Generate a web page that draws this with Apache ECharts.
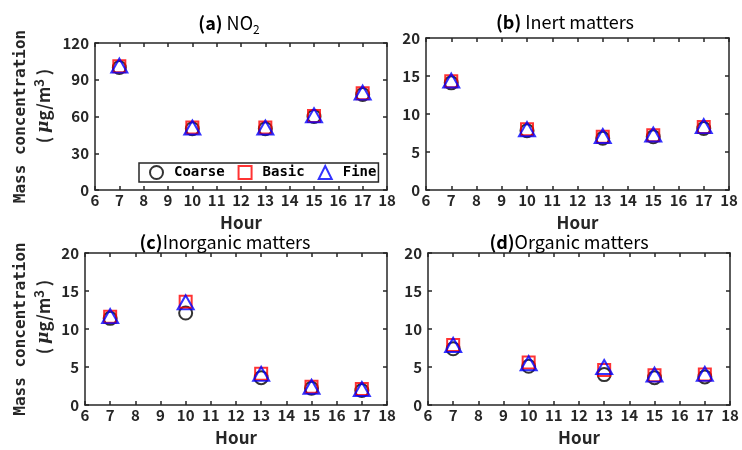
<!DOCTYPE html>
<html>
<head>
<meta charset="utf-8">
<script src="https://cdn.jsdelivr.net/npm/echarts@6/dist/echarts.min.js"></script>
<style>html,body{margin:0;padding:0;background:#fff;}#c{width:742px;height:450px;}</style>
</head>
<body>
<div id="c"></div>
<script>
// ---- data ----
const hours = [7, 10, 13, 15, 17];
const xTicks = [6, 7, 8, 9, 10, 11, 12, 13, 14, 15, 16, 17, 18];
const seriesNames = ['Coarse', 'Basic', 'Fine'];
const no2Coarse = [100, 50, 50, 60, 78];
const no2Basic = [101, 51, 51, 60.5, 79];
const no2Fine = [101.5, 51, 51, 61, 79.5];
const inertCoarse = [14.1, 7.8, 6.8, 7.0, 8.1];
const inertBasic = [14.3, 8.0, 7.0, 7.2, 8.3];
const inertFine = [14.4, 8.0, 7.1, 7.3, 8.4];
const inorgCoarse = [11.4, 12.1, 3.6, 2.2, 1.9];
const inorgBasic = [11.6, 13.6, 4.1, 2.4, 2.1];
const inorgFine = [11.7, 13.5, 4.1, 2.4, 2.1];
const orgCoarse = [7.4, 5.1, 4.0, 3.6, 3.7];
const orgBasic = [7.9, 5.6, 4.6, 3.9, 4.0];
const orgFine = [7.9, 5.5, 5.0, 4.0, 4.1];

const AX = '#262626';
const TF = 'Noto Sans CJK JP';
const MF = 'DejaVu Sans Mono';
const panels = [
  {title: '{b|(a)} NO{sub|2}', ymax: 120, yint: 30, vals: [no2Coarse, no2Basic, no2Fine],
   grid: {left: 95, top: 43, width: 292, height: 147}, tx: 224, ty: 6},
  {title: '{b|(b)} Inert matters', ymax: 20, yint: 5, vals: [inertCoarse, inertBasic, inertFine],
   grid: {left: 426, top: 38, width: 303, height: 152}, tx: 560, ty: 8},
  {title: '{b|(c)}Inorganic matters', ymax: 20, yint: 5, vals: [inorgCoarse, inorgBasic, inorgFine],
   grid: {left: 85, top: 253, width: 302, height: 152}, tx: 220, ty: 228},
  {title: '{b|(d)}Organic matters', ymax: 20, yint: 5, vals: [orgCoarse, orgBasic, orgFine],
   grid: {left: 428, top: 253, width: 302, height: 152}, tx: 564, ty: 228}
];
const styles = [
  {symbol: 'circle', size: 13, color: '#000000'},
  {symbol: 'rect', size: 12, color: '#ff0000'},
  {symbol: 'triangle', size: [16, 14], color: '#0000ff'}
];

const grids = [], xAxes = [], yAxes = [], series = [], titles = [];
panels.forEach((p, i) => {
  grids.push(Object.assign({containLabel: false}, p.grid));
  const xBase = {gridIndex: i, type: 'value', min: xTicks[0], max: xTicks[xTicks.length - 1], interval: 1,
    splitLine: {show: false}, axisLine: {show: true, onZero: false, lineStyle: {color: AX, width: 1.5}},
    axisTick: {show: true, inside: true, length: 4, lineStyle: {color: AX, width: 1.5}}};
  xAxes.push(Object.assign({}, xBase, {position: 'bottom', name: 'Hour', nameLocation: 'middle', nameGap: 24,
    nameTextStyle: {fontFamily: TF, fontWeight: 'bold', fontSize: 17, color: AX},
    axisLabel: {show: true, margin: 3, fontFamily: TF, fontWeight: 'bold', fontSize: 15, color: AX}}));
  xAxes.push(Object.assign({}, xBase, {position: 'top', axisLabel: {show: false}}));
  const yBase = {gridIndex: i, type: 'value', min: 0, max: p.ymax, interval: p.yint,
    splitLine: {show: false}, axisLine: {show: true, onZero: false, lineStyle: {color: AX, width: 1.5}},
    axisTick: {show: true, inside: true, length: 4, lineStyle: {color: AX, width: 1.5}}};
  yAxes.push(Object.assign({}, yBase, {position: 'left',
    axisLabel: {show: true, margin: 6, fontFamily: TF, fontWeight: 'bold', fontSize: 15, color: AX}}));
  yAxes.push(Object.assign({}, yBase, {position: 'right', axisLabel: {show: false}}));
  p.vals.forEach((arr, k) => {
    const s = styles[k];
    series.push({
      type: 'scatter', name: seriesNames[k], xAxisIndex: 2 * i, yAxisIndex: 2 * i,
      symbol: s.symbol, symbolSize: s.size,
      itemStyle: {color: 'rgba(255,255,255,0)', borderColor: s.color, borderWidth: 2},
      emphasis: {disabled: true},
      data: hours.map((h, j) => [h, arr[j]]), z: 2 + k
    });
  });
  titles.push({
    text: p.title, left: p.tx, top: p.ty, textAlign: 'center',
    textStyle: {fontFamily: 'Noto Sans CJK JP', fontSize: 18, fontWeight: 'normal', color: '#000',
      rich: {
        b: {fontFamily: 'Noto Sans CJK JP', fontSize: 18, fontWeight: 'bold', color: '#000'},
        sub: {fontFamily: 'Noto Sans CJK JP', fontSize: 12, color: '#000', verticalAlign: 'bottom', padding: [12, 0, 0, 0]}
      }}
  });
});

const yLabelRich = {
  mu: {fontFamily: 'DejaVu Serif', fontStyle: 'italic', fontSize: 17, fill: AX, fontWeight: 'bold'},
  sup: {fontFamily: TF, fontSize: 13, fontWeight: 'bold', fill: AX, verticalAlign: 'top', padding: [0, 0, 10, 0]},
  n: {fontFamily: TF, fontSize: 17, fontWeight: 'bold', fill: AX}
};
function yLabels(cy, cy2) {
  return [
    {type: 'text', x: 21, y: cy, rotation: Math.PI / 2,
     style: {text: 'Mass concentration', font: 'bold 16px "DejaVu Sans Mono"', fill: AX, textAlign: 'center', textVerticalAlign: 'middle'}},
    {type: 'text', x: 44, y: cy2, rotation: Math.PI / 2,
     style: {text: '{n|( }{mu|μ}{n|g/m}{sup|3}{n| )}', rich: yLabelRich, fill: AX, textAlign: 'center', textVerticalAlign: 'middle'}}
  ];
}

const chart = echarts.init(document.getElementById('c'), null, {renderer: 'canvas'});
chart.setOption({
  animation: false,
  backgroundColor: '#ffffff',
  title: titles,
  grid: grids,
  xAxis: xAxes,
  yAxis: yAxes,
  legend: {
    show: true, left: 139, top: 163, orient: 'horizontal',
    borderColor: AX, borderWidth: 1.5, padding: [2, 2, 2, 10], itemGap: 13,
    itemWidth: 13, itemHeight: 13, selectedMode: false,
    textStyle: {fontFamily: MF, fontWeight: 'bold', fontSize: 14, color: '#000', padding: [0, 0, 0, 6]},
    data: [
      {name: 'Coarse', icon: 'circle', itemStyle: {color: 'rgba(255,255,255,0)', borderColor: '#000000', borderWidth: 2}},
      {name: 'Basic', icon: 'rect', itemStyle: {color: 'rgba(255,255,255,0)', borderColor: '#ff0000', borderWidth: 2}},
      {name: 'Fine', icon: 'triangle', itemStyle: {color: 'rgba(255,255,255,0)', borderColor: '#0000ff', borderWidth: 2}}
    ]
  },
  graphic: yLabels(116.5, 106).concat(yLabels(329, 317)),
  series: series
});
</script>
</body>
</html>
